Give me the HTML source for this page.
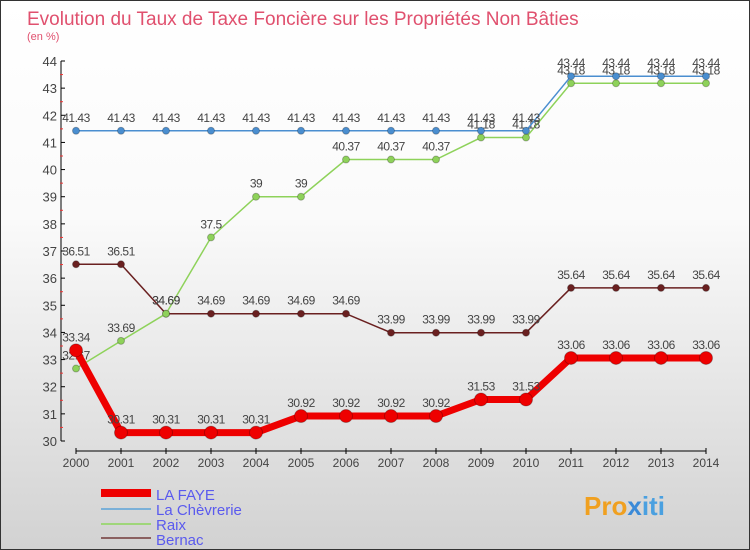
<!DOCTYPE html>
<html><head><meta charset="utf-8"><style>
body{margin:0}
#c{width:750px;height:550px;position:relative;box-sizing:border-box;border:1px solid #333;background:linear-gradient(#fff,#fafafa 40%,#d2d2d2);font-family:"Liberation Sans",sans-serif;overflow:hidden}
</style></head><body>
<div id="c">
<svg id="s" width="750" height="550" style="position:absolute;left:0;top:0" font-family="Liberation Sans, sans-serif">
<text x="26" y="24" font-size="19" fill="#e0506e">Evolution du Taux de Taxe Foncière sur les Propriétés Non Bâties</text>
<text x="26" y="39" font-size="11" fill="#e0506e">(en %)</text>
<g id="ax"></g><g id="series"></g>
<g>
<line x1="100" y1="492" x2="150" y2="492" stroke="#e00" stroke-width="8"/>
<text x="155" y="499" font-size="15" fill="#5a5aee">LA FAYE</text>
<line x1="100" y1="508" x2="150" y2="508" stroke="#7ab0d8" stroke-width="2"/>
<text x="155" y="514" font-size="15" fill="#5a5aee">La Chèvrerie</text>
<line x1="100" y1="523" x2="150" y2="523" stroke="#9fd67a" stroke-width="2"/>
<text x="155" y="529" font-size="15" fill="#5a5aee">Raix</text>
<line x1="100" y1="537" x2="150" y2="537" stroke="#8a6060" stroke-width="2"/>
<text x="155" y="544" font-size="15" fill="#5a5aee">Bernac</text>
</g>
<text x="583" y="514" font-size="26" font-weight="bold" fill="#f0a020">Pro<tspan fill="#3a8ad8">x</tspan><tspan fill="#4aa0e0">iti</tspan></text>
</svg>
</div>
<script>
const years=[2000,2001,2002,2003,2004,2005,2006,2007,2008,2009,2010,2011,2012,2013,2014];
const yTicks=[30,31,32,33,34,35,36,37,38,39,40,41,42,43,44];
const laFaye=[33.34,30.31,30.31,30.31,30.31,30.92,30.92,30.92,30.92,31.53,31.53,33.06,33.06,33.06,33.06];
const chevrerie=[41.43,41.43,41.43,41.43,41.43,41.43,41.43,41.43,41.43,41.43,41.43,43.44,43.44,43.44,43.44];
const raix=[32.67,33.69,34.69,37.5,39,39,40.37,40.37,40.37,41.18,41.18,43.18,43.18,43.18,43.18];
const bernac=[36.51,36.51,34.69,34.69,34.69,34.69,34.69,33.99,33.99,33.99,33.99,35.64,35.64,35.64,35.64];
const NS="http://www.w3.org/2000/svg";
const X=i=>75+(705-75)*(years[i]-years[0])/(years[years.length-1]-years[0]);
const Y=v=>440-(v-30)*(380/14);
function mk(t,a,p){const e=document.createElementNS(NS,t);for(const k in a)e.setAttribute(k,a[k]);p.appendChild(e);return e;}
const ax=document.getElementById('ax');
let l=mk('line',{x1:60,y1:Y(44),x2:60,y2:Y(30),stroke:'#000'},ax);


l=mk('line',{x1:75,y1:450,x2:705,y2:450,stroke:'#000'},ax);


yTicks.forEach((v,i)=>{
 mk('line',{x1:60,y1:Y(v),x2:64,y2:Y(v),stroke:'#000'},ax);
 if(i<yTicks.length-1)mk('line',{x1:59,y1:Y(v+0.5),x2:62,y2:Y(v+0.5),stroke:'#e33'},ax);
 const t=mk('text',{x:56,y:Y(v)+5,'font-size':13,fill:'#444','text-anchor':'end'},ax);t.textContent=v;
 
 
});
years.forEach((yr,i)=>{
 mk('line',{x1:X(i),y1:447,x2:X(i),y2:453,stroke:'#000'},ax);
 const t=mk('text',{x:X(i),y:466,'font-size':12,fill:'#444','text-anchor':'middle'},ax);t.textContent=yr;
 
 
});
const sg=document.getElementById('series');
function series(data,name,color,w,r){
 const g=mk('g',{},sg);
 
 
 const pl=mk('polyline',{points:data.map((v,i)=>X(i)+','+Y(v)).join(' '),fill:'none',stroke:color,'stroke-width':w},g);
 
 
 data.forEach((v,i)=>{
  const c=mk('circle',{cx:X(i),cy:Y(v),r:r,fill:color,stroke:'rgba(0,0,0,0.25)'},g);
  
  
  const t=mk('text',{x:X(i),y:Y(v)-9,'font-size':12,fill:'#444','text-anchor':'middle','letter-spacing':'-0.5'},g);
  t.textContent=v;
  
  
 });
}
series(bernac,'bernac','#6a2020',1.5,3.5);
series(raix,'raix','#8ed25a',1.5,3.5);
series(chevrerie,'la-chevrerie','#4a8ed0',1.5,3.5);
series(laFaye,'la-faye','#ee0000',7,6.5);
</script>
</body></html>
